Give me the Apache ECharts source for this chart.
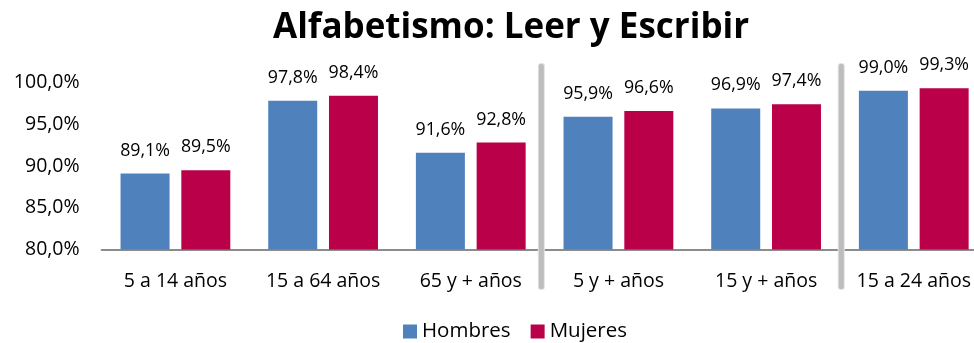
<!DOCTYPE html>
<html>
<head>
<meta charset="utf-8">
<script src="https://cdn.jsdelivr.net/npm/echarts@6/dist/echarts.min.js"></script>
<style>
  html, body { margin: 0; padding: 0; background: #fff; }
  #chart { width: 974px; height: 343px; }
</style>
</head>
<body>
<div id="chart"></div>
<script>
// Grupos de edad
const categories = ['5 a 14 años', '15 a 64 años', '65 y + años', '5 y + años', '15 y + años', '15 a 24 años'];
// Tasa de alfabetismo (%)
const hombres = [89.1, 97.8, 91.6, 95.9, 96.9, 99.0];
const mujeres = [89.5, 98.4, 92.8, 96.6, 97.4, 99.3];
// Separadores verticales entre bloques (posición en unidades de categoría)
const separators = [2.978, 5.009];
const yTicks = { min: 80, max: 100, interval: 5 };

const FONT = '"Open Sans", "Noto Sans", sans-serif';
const fmt = v => v.toFixed(1).replace('.', ',') + '%';

const chart = echarts.init(document.getElementById('chart'), null, { renderer: 'canvas' });

// El área de trazado continúa un poco más allá del borde derecho
const plotLeft = 101.6, plotWidth = 886;

chart.setOption({
  animation: false,
  textStyle: { fontFamily: FONT },
  title: {
    text: 'Alfabetismo: Leer y Escribir',
    left: 268,
    top: 6,
    textStyle: { fontFamily: FONT, fontSize: 35, fontWeight: 'bold', color: '#000' }
  },
  legend: {
    bottom: -4,
    left: 398,
    itemWidth: 14,
    itemHeight: 14,
    itemGap: 20,
    icon: 'rect',
    textStyle: { fontFamily: FONT, fontSize: 20.5, color: '#000' },
    data: ['Hombres', 'Mujeres']
  },
  grid: [
    { left: plotLeft, width: plotWidth, top: 82.5, height: 167, outerBoundsMode: 'none' },
    { left: plotLeft, width: plotWidth, top: 63, height: 227, outerBoundsMode: 'none' }
  ],
  xAxis: [
    {
      type: 'category',
      gridIndex: 0,
      data: categories,
      axisLine: { lineStyle: { color: '#8c8c8c', width: 2 } },
      axisTick: { show: false },
      axisLabel: { interval: 0, fontFamily: FONT, fontSize: 19.5, color: '#000', margin: 22 }
    },
    { type: 'value', gridIndex: 1, min: 0, max: 6, show: false }
  ],
  yAxis: [
    {
      type: 'value',
      gridIndex: 0,
      min: yTicks.min,
      max: yTicks.max,
      interval: yTicks.interval,
      axisLine: { show: false },
      axisTick: { show: false },
      splitLine: { show: false },
      axisLabel: { fontFamily: FONT, fontSize: 19.5, color: '#000', margin: 22, formatter: fmt }
    },
    { type: 'value', gridIndex: 1, min: 0, max: 1, show: false }
  ],
  series: [
    {
      name: 'Hombres',
      type: 'bar',
      xAxisIndex: 0, yAxisIndex: 0,
      data: hombres,
      barWidth: 49,
      barGap: '24%',
      itemStyle: { color: '#4f81bd' },
      label: { show: true, position: 'top', distance: 14, fontFamily: FONT, fontSize: 17.8, color: '#000', formatter: p => fmt(p.value) }
    },
    {
      name: 'Mujeres',
      type: 'bar',
      xAxisIndex: 0, yAxisIndex: 0,
      data: mujeres,
      barWidth: 49,
      barGap: '24%',
      itemStyle: { color: '#ba0048' },
      label: { show: true, position: 'top', distance: 14, fontFamily: FONT, fontSize: 17.8, color: '#000', formatter: p => fmt(p.value) }
    },
    {
      type: 'custom',
      xAxisIndex: 1, yAxisIndex: 1,
      silent: true,
      clip: false,
      data: separators.map(v => [v]),
      renderItem: (params, api) => {
        const top = api.coord([api.value(0), 1]);
        const bottom = api.coord([api.value(0), 0]);
        return {
          type: 'group',
          children: [
            { type: 'rect', shape: { x: top[0] - 3.5, y: top[1], width: 7, height: bottom[1] - top[1], r: 3 }, style: { fill: '#e2e2e2' } },
            { type: 'rect', shape: { x: top[0] - 2.5, y: top[1] + 1, width: 5, height: bottom[1] - top[1] - 2, r: 2 }, style: { fill: '#bdbdbd' } }
          ]
        };
      }
    }
  ]
});
</script>
</body>
</html>
